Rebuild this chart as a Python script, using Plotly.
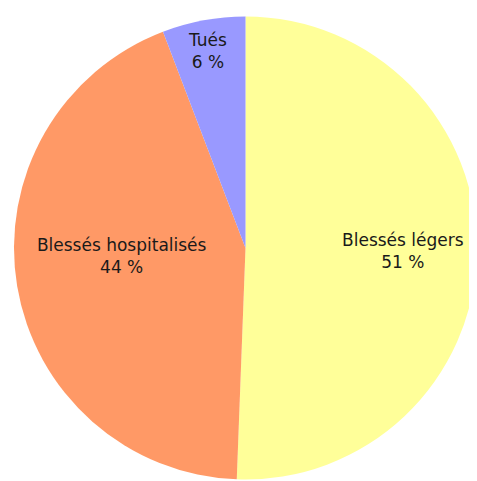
import plotly.graph_objects as go

labels = ["Blessés légers", "Blessés hospitalisés", "Tués"]
values = [50.6, 43.6, 5.8]
colors = ["#ffff99", "#ff9966", "#9999ff"]

total = sum(values)
pct_text = [f"{round(v / total * 100)} %" for v in values]
label_tpl = "%{label}<br>%{text}"
font = dict(family="DejaVu Sans, sans-serif", size=17, color="#1a1a1a")

common = dict(
    labels=labels,
    values=values,
    text=pct_text,
    textinfo="text",
    textposition="inside",
    insidetextorientation="horizontal",
    sort=False,
    direction="clockwise",
    textfont=font,
    showlegend=False,
)
transparent = dict(colors=["rgba(0,0,0,0)"] * 3, line=dict(width=0))

fig = go.Figure()
# Filled pie (colours)
fig.add_trace(
    go.Pie(
        **common,
        rotation=0,
        texttemplate=["", "", ""],
        marker=dict(colors=colors, line=dict(width=0)),
        hoverinfo="label+percent",
    )
)
# Transparent overlays, used only to place the slice labels
fig.add_trace(
    go.Pie(
        **common,
        rotation=0,
        texttemplate=[label_tpl, "", ""],
        pull=[0.5625, 0, 0],
        marker=transparent,
        hoverinfo="skip",
    )
)
fig.add_trace(
    go.Pie(
        **common,
        rotation=5.6,
        texttemplate=["", label_tpl, ""],
        pull=[0, 0.066, 0],
        marker=transparent,
        hoverinfo="skip",
    )
)
fig.add_trace(
    go.Pie(
        **common,
        rotation=-0.5,
        texttemplate=["", "", label_tpl],
        pull=[0, 0, 0.14],
        marker=transparent,
        hoverinfo="skip",
    )
)

fig.update_layout(
    width=469,
    height=473,
    margin=dict(l=6, r=0, t=7, b=0),
    paper_bgcolor="white",
    plot_bgcolor="white",
    uniformtext=dict(minsize=17, mode="show"),
)

fig.write_html("out.html")
